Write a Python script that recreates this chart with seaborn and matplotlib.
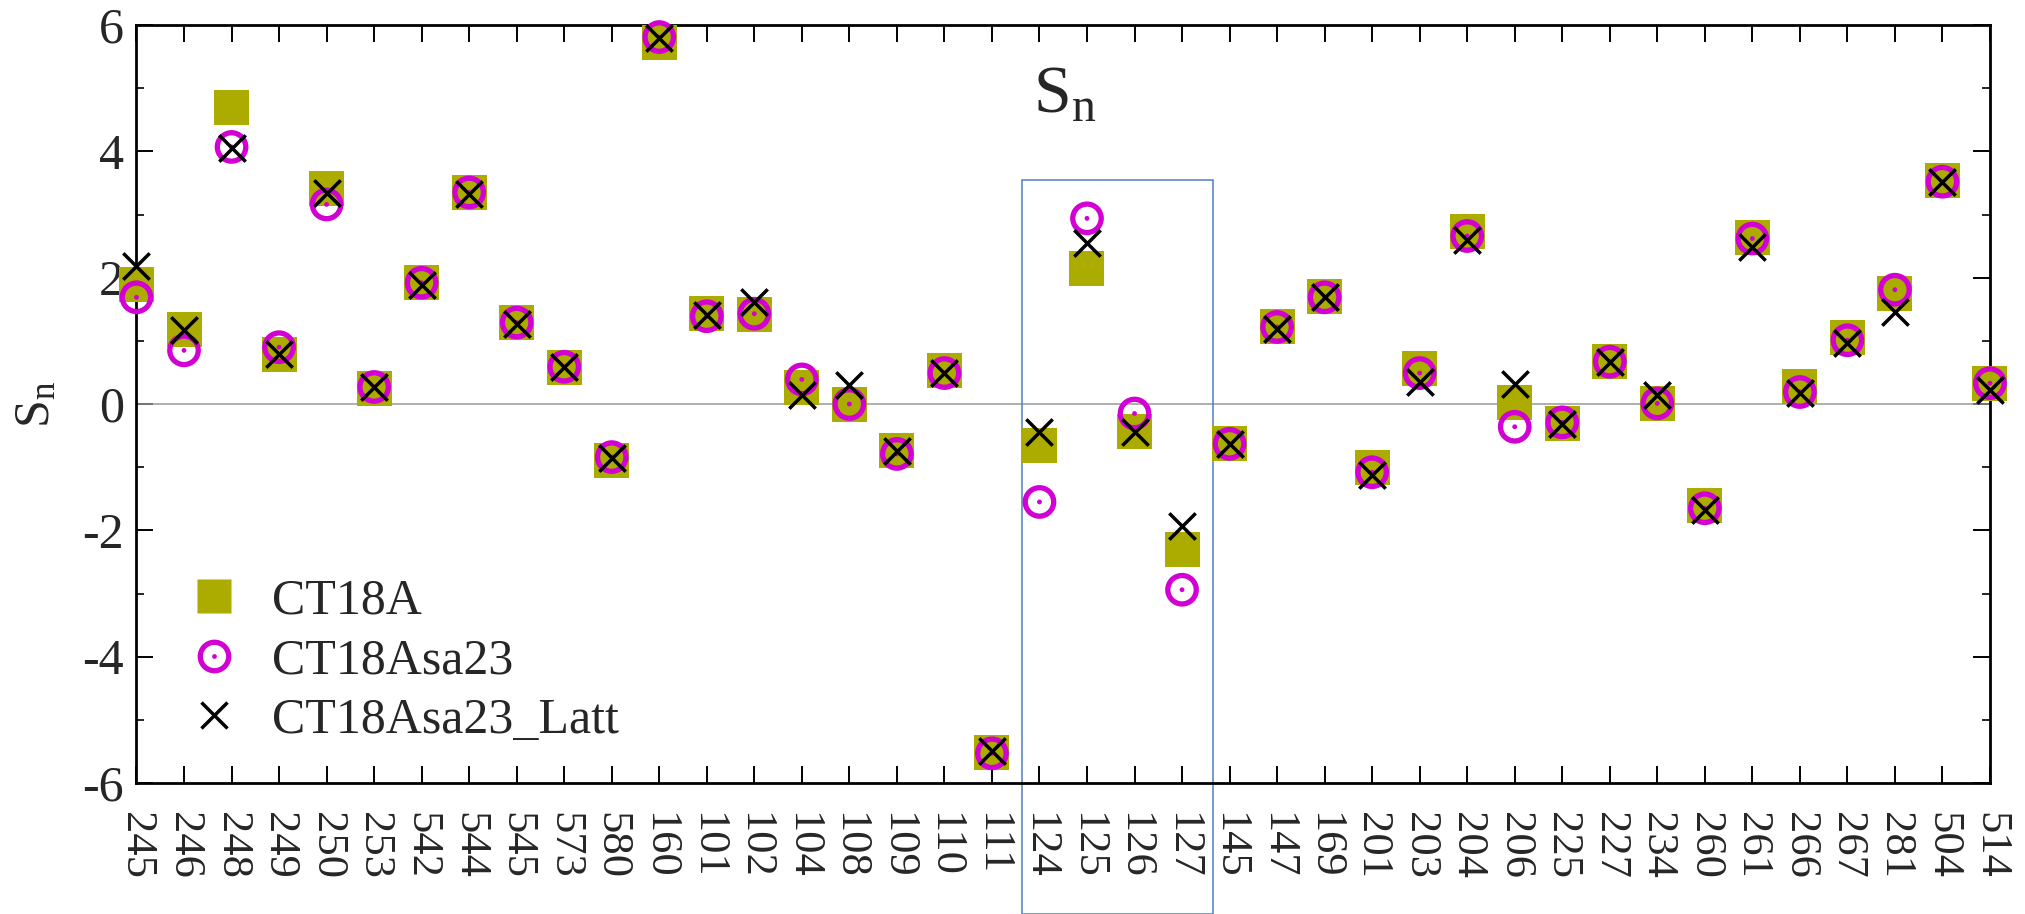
import numpy as np
import matplotlib
matplotlib.use("Agg")
import matplotlib.pyplot as plt
import seaborn as sns
from matplotlib.patches import Rectangle
from matplotlib.lines import Line2D
from matplotlib.ticker import MultipleLocator

# Experiment IDs along the x axis
experiments = ["245", "246", "248", "249", "250", "253", "542", "544", "545", "573",
               "580", "160", "101", "102", "104", "108", "109", "110", "111", "124",
               "125", "126", "127", "145", "147", "169", "201", "203", "204", "206",
               "225", "227", "234", "260", "261", "266", "267", "281", "504", "514"]

# Sensitivity S_n per experiment for each PDF set
ct18a = [1.89, 1.18, 4.69, 0.78, 3.42, 0.25, 1.92, 3.35, 1.29, 0.58,
         -0.90, 5.73, 1.43, 1.42, 0.26, 0.00, -0.74, 0.53, -5.52, -0.66,
         2.15, -0.44, -2.30, -0.63, 1.23, 1.70, -1.00, 0.56, 2.73, 0.03,
         -0.31, 0.68, 0.01, -1.61, 2.64, 0.27, 1.06, 1.75, 3.54, 0.32]
ct18asa23 = [1.69, 0.85, 4.07, 0.90, 3.16, 0.27, 1.92, 3.35, 1.29, 0.59,
             -0.84, 5.81, 1.39, 1.43, 0.39, 0.00, -0.79, 0.49, -5.53, -1.55,
             2.94, -0.15, -2.94, -0.63, 1.22, 1.69, -1.08, 0.49, 2.66, -0.36,
             -0.29, 0.67, 0.01, -1.65, 2.62, 0.19, 1.01, 1.81, 3.52, 0.33]
ct18asa23_latt = [2.19, 1.17, 4.06, 0.80, 3.34, 0.27, 1.88, 3.33, 1.27, 0.59,
                  -0.86, 5.79, 1.41, 1.62, 0.14, 0.30, -0.75, 0.49, -5.49, -0.44,
                  2.55, -0.45, -1.93, -0.63, 1.19, 1.69, -1.12, 0.35, 2.60, 0.32,
                  -0.31, 0.67, 0.14, -1.67, 2.48, 0.17, 0.96, 1.46, 3.52, 0.22]

series_labels = ["CT18A", "CT18Asa23", "CT18Asa23_Latt"]
highlight = ("124", "127")

OLIVE = "#abab00"
MAGENTA = "#d200d2"
BOX_BLUE = "#4f7fbf"

sns.set_style("ticks")
plt.rcParams["font.family"] = ["Liberation Serif", "DejaVu Serif"]
plt.rcParams["mathtext.fontset"] = "custom"
plt.rcParams["mathtext.rm"] = "Liberation Serif"
plt.rcParams["mathtext.it"] = "Liberation Serif:italic"
plt.rcParams["axes.unicode_minus"] = False

fig = plt.figure(figsize=(20.25, 9.14), dpi=100)
ax = fig.add_axes([0.0674, 0.1433, 0.9153, 0.8293])

pos = np.arange(len(experiments))

SQ_S = 635
CIRC_S = 420
CIRC_LW = 3.8
X_S = 361
X_LW = 2.5

ax.axhline(0, color="#999999", lw=1.1, zorder=1)

sns.scatterplot(x=pos, y=ct18a, marker="s", s=SQ_S, color=OLIVE,
                edgecolor="none", linewidth=0, clip_on=False, zorder=3, ax=ax)
sns.scatterplot(x=pos, y=ct18asa23, marker="o", s=CIRC_S, facecolor="none",
                edgecolor=MAGENTA, linewidth=CIRC_LW, clip_on=False, zorder=4, ax=ax)
sns.scatterplot(x=pos, y=ct18asa23, marker="o", s=12, color=MAGENTA,
                edgecolor="none", linewidth=0, clip_on=False, zorder=4, ax=ax)
sns.scatterplot(x=pos, y=ct18asa23_latt, marker="x", s=X_S, color="black",
                linewidth=X_LW, clip_on=False, zorder=5, ax=ax)

ax.set_xlim(0, len(experiments) - 1)
ax.set_ylim(-6, 6)
ax.set_xticks(pos)
ax.set_xticklabels(experiments, rotation=-90)
ax.yaxis.set_major_locator(MultipleLocator(2))
ax.yaxis.set_minor_locator(MultipleLocator(1))

ax.tick_params(axis="both", which="major", direction="in", top=True, right=True,
               length=12, width=1.4, color="black")
ax.tick_params(axis="y", which="minor", direction="in", left=True, right=True,
               length=5.5, width=1.4)
ax.tick_params(axis="x", labelsize=32, pad=21)
ax.tick_params(axis="y", labelsize=36, pad=9)
for sp in ax.spines.values():
    sp.set_linewidth(2.0)
    sp.set_color("black")

ax.set_ylabel(r"$\mathrm{S_n}$", fontsize=36)
ax.yaxis.set_label_coords(-0.0537, 0.5)
ax.yaxis.label.set_va("center")

ax.text(0.501, 0.885, r"$\mathrm{S_n}$", transform=ax.transAxes,
        ha="center", va="baseline", fontsize=49)

# legend: filled square, dotted ring, cross
h_sq = Line2D([], [], ls="none", marker="s", ms=np.sqrt(SQ_S), color=OLIVE, mec="none")
h_ring = Line2D([], [], ls="none", marker="o", ms=np.sqrt(CIRC_S), mfc="none",
                mec=MAGENTA, mew=CIRC_LW)
h_dot = Line2D([], [], ls="none", marker="o", ms=3.4, color=MAGENTA, mec="none")
h_x = Line2D([], [], ls="none", marker="x", ms=np.sqrt(X_S), color="black", mew=X_LW)
ax.legend([h_sq, (h_ring, h_dot), h_x], series_labels, loc="upper left",
          bbox_to_anchor=(0.0283, 0.27), frameon=False, fontsize=36,
          borderpad=0, borderaxespad=0, handlelength=1.0, handletextpad=0.67,
          labelspacing=0.26)

# outline around the 124-127 group, running down through the tick labels
fig.canvas.draw()
y_fig_bottom = ax.transData.inverted().transform(fig.transFigure.transform((0, 0)))[1]
i0 = experiments.index(highlight[0])
i1 = experiments.index(highlight[1])
x0, x1 = i0 - 0.37, i1 + 0.66
y_top = 3.55
ax.add_patch(Rectangle((x0, y_fig_bottom), x1 - x0, y_top - y_fig_bottom,
                       fill=False, edgecolor=BOX_BLUE, lw=1.1, clip_on=False, zorder=2))

fig.savefig("out.png", dpi=100)
